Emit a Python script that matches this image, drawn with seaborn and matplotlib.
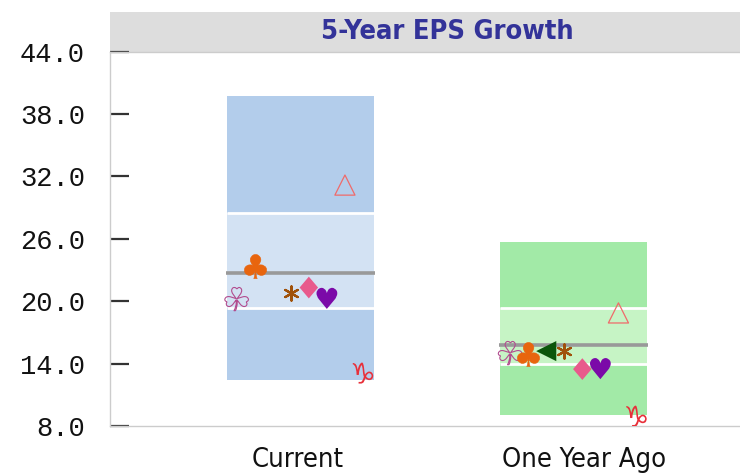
import matplotlib
matplotlib.use("Agg")
import matplotlib.pyplot as plt
import matplotlib.transforms as mtransforms
from matplotlib.patches import Rectangle
import numpy as np
import pandas as pd
import seaborn as sns

# ---- data -------------------------------------------------------------
categories = ["Current", "One Year Ago"]
range_low = [12.41, 9.05]
range_high = [39.72, 25.71]
band_low = [19.37, 13.92]
band_high = [28.44, 19.31]
median = [22.67, 15.75]

series = ["shamrock", "club", "pointer", "asterisk",
          "diamond", "heart", "triangle", "capricorn"]
current_vals = [20.20, 23.37, np.nan, 20.81, 21.31, 20.27, 31.16, 13.09]
year_ago_vals = [15.01, 14.91, 15.20, 15.23, 13.47, 13.52, 18.87, 8.95]

y_ticks = [8.0, 14.0, 20.0, 26.0, 32.0, 38.0, 44.0]
title = "5-Year EPS Growth"

# ---- styling ----------------------------------------------------------
sns.set_style("white")
plt.rcParams["font.family"] = ["DejaVu Sans"]

box_colors = {"outer": ["#B3CDEB", "#A2EAA7"], "inner": ["#D3E2F3", "#C6F4C5"]}
box_width = 0.538
series_offsets = [-0.233, -0.167, -0.101, -0.035, 0.031, 0.097, 0.163, 0.229]
label_shift_px = [-2.5, 10.0]

diamond_path = [(0, 1), (0.85, 0), (0, -1), (-0.85, 0), (0, 1)]
marker_styles = {
    "shamrock": dict(marker="$\u2618$", s=290, facecolor="none",
                     edgecolor="#B24C8E", linewidth=0.8),
    "club": dict(marker="$\u2663$", s=300, facecolor="#E8650E",
                 edgecolor="#E8650E", linewidth=0.4),
    "pointer": dict(marker="<", s=210, facecolor="#0B560B",
                    edgecolor="none", linewidth=0),
    "asterisk": dict(marker=(6, 2, 0), s=105, facecolor="#A0520A",
                     edgecolor="#A0520A", linewidth=1.6),
    "diamond": dict(marker=diamond_path, s=245, facecolor="#E85A8C",
                    edgecolor="none", linewidth=0),
    "heart": dict(marker="$\u2665$", s=230, facecolor="#7B0AA8",
                  edgecolor="none", linewidth=0),
    "triangle": dict(marker="^", s=210, facecolor="none",
                     edgecolor="#F06A6A", linewidth=0.9),
    "capricorn": dict(marker="$\u2651$", s=230, facecolor="#E8303A",
                      edgecolor="none", linewidth=0),
}

# ---- long table of points --------------------------------------------
rows = []
for ci, vals in enumerate([current_vals, year_ago_vals]):
    for si, (name, v) in enumerate(zip(series, vals)):
        if not np.isnan(v):
            rows.append({"series": name, "xpos": ci + series_offsets[si], "value": v})
points = pd.DataFrame(rows)

# ---- figure -----------------------------------------------------------
fig = plt.figure(figsize=(7.4, 4.74), dpi=100)
ax = fig.add_axes([110 / 740, 1 - 426 / 474, 630 / 740, (426 - 51.5) / 474])

xs = np.arange(len(categories))
ax.bar(xs, np.subtract(range_high, range_low), bottom=range_low,
       width=box_width, color=box_colors["outer"], linewidth=0, zorder=1)
ax.bar(xs, np.subtract(band_high, band_low), bottom=band_low,
       width=box_width, color=box_colors["inner"], linewidth=0, zorder=1)
for i in xs:
    ax.hlines([band_low[i], band_high[i]], i - box_width / 2, i + box_width / 2,
              color="white", linewidth=2.0, zorder=2)
    ax.hlines(median[i], i - box_width / 2 - 0.003, i + box_width / 2 + 0.003,
              color="#999999", linewidth=2.6, zorder=3)

for name in series:
    sub = points[points["series"] == name]
    sns.scatterplot(data=sub, x="xpos", y="value", ax=ax, legend=False,
                    zorder=4, **marker_styles[name])

ax.set_xlim(-0.696, 1.6075)
ax.set_ylim(8, 44)
ax.set_xticks(xs)
ax.set_xticklabels(categories, fontsize=19.5, fontstretch="condensed",
                   color="#111111")
ax.set_yticks(y_ticks)
ax.set_yticklabels([f"{t:.1f}" for t in y_ticks], family="Liberation Mono",
                   fontsize=19.5, color="#111111")
ax.tick_params(axis="x", bottom=False, length=0, pad=15)
ax.tick_params(axis="y", left=True, direction="in", length=14, width=1.6,
               color="#333333", pad=18)
ax.set_xlabel("")
ax.set_ylabel("")

# nudge the category labels sideways
for lab, dx in zip(ax.get_xticklabels(), label_shift_px):
    lab.set_transform(lab.get_transform() + mtransforms.ScaledTranslation(
        dx / fig.dpi, 0, fig.dpi_scale_trans))

for side in ["left", "bottom", "top"]:
    ax.spines[side].set_visible(True)
    ax.spines[side].set_color("#CCCCCC")
    ax.spines[side].set_linewidth(1.0)
ax.spines["right"].set_visible(False)

# header band with title
band_h = 39.5 / 374.5
ax.add_patch(Rectangle((0, 1), 1, band_h, transform=ax.transAxes,
                       facecolor="#DDDDDD", edgecolor="none", clip_on=False,
                       zorder=0))
ax.text(0.535, 1 + band_h / 2, title, transform=ax.transAxes, ha="center",
        va="center", fontsize=19.5, fontweight="bold", fontstretch="condensed",
        color="#333399")

fig.savefig("out.png", dpi=100)
